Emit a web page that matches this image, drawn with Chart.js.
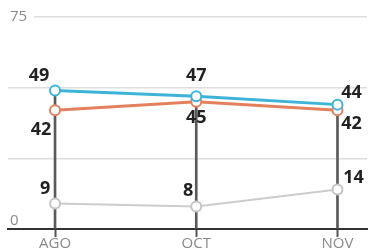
<!DOCTYPE html>
<html><head><meta charset="utf-8">
<script src="https://cdn.jsdelivr.net/npm/chart.js@4/dist/chart.umd.min.js"></script>
<style>html,body{margin:0;padding:0;background:#fff}#w{width:374px;height:252px}</style>
</head><body><div id="w"><canvas id="c"></canvas></div>
<script>
const categories = ['AGO', 'OCT', 'NOV'];
const seriesBlue = [49, 47, 44];
const seriesOrange = [42, 45, 42];
const seriesGray = [9, 8, 14];
const yTickLabels = [0, 75];

const toPts = arr => arr.map((v, i) => ({x: i, y: v}));
const tops = categories.map((_, i) => ({x: i, y: Math.max(seriesBlue[i], seriesOrange[i], seriesGray[i])}));

const labelOffsets = [
  [[-16,-15],[0,-20],[14,-12]],
  [[-14,20],[0,16],[14,14]],
  [[-10,-15],[-8,-16],[16,-12]]
];

const valueLabels = {
  id: 'valueLabels',
  afterDatasetsDraw(chart) {
    const ctx = chart.ctx;
    ctx.save();
    ctx.font = 'bold 18px "Open Sans", sans-serif';
    ctx.fillStyle = '#222';
    ctx.textAlign = 'center';
    ctx.textBaseline = 'middle';
    [0,1,2].forEach(di => {
      const meta = chart.getDatasetMeta(di);
      const ds = chart.data.datasets[di];
      meta.data.forEach((pt, i) => {
        const o = labelOffsets[di][i];
        ctx.fillText(String(ds.data[i].y), pt.x + o[0], pt.y + o[1]);
      });
    });
    ctx.restore();
  }
};

const yLabels = {
  id: 'yLabels',
  afterDraw(chart) {
    const ctx = chart.ctx;
    const ys = chart.scales.y;
    ctx.save();
    ctx.font = '15px "Open Sans", sans-serif';
    ctx.fillStyle = '#8a8a8a';
    ctx.textAlign = 'left';
    ys.ticks.forEach(t => {
      if (!yTickLabels.includes(t.value)) return;
      const y = ys.getPixelForValue(t.value);
      const txt = String(t.value);
      if (t.value === ys.max) {
        const w = ctx.measureText(txt).width;
        ctx.fillStyle = '#fff';
        ctx.fillRect(8, y - 8, w + 9, 16);
        ctx.fillStyle = '#8a8a8a';
        ctx.textBaseline = 'middle';
        ctx.fillText(txt, 10, y);
      } else {
        ctx.textBaseline = 'bottom';
        ctx.fillText(txt, 10, y - 1);
      }
    });
    ctx.restore();
  }
};

new Chart(document.getElementById('c'), {
  type: 'line',
  data: {
    datasets: [
      {data: toPts(seriesBlue), borderColor: '#3db3d8', borderWidth: 3, pointRadius: 5, pointBorderWidth: 2, pointBackgroundColor: '#fff', pointBorderColor: '#3db3d8', order: 1},
      {data: toPts(seriesOrange), borderColor: '#e3805e', borderWidth: 3, pointRadius: 5, pointBorderWidth: 2, pointBackgroundColor: '#fff', pointBorderColor: '#e3805e', order: 2},
      {data: toPts(seriesGray), borderColor: '#cccccc', borderWidth: 2, pointRadius: 5, pointBorderWidth: 2, pointBackgroundColor: '#fff', pointBorderColor: '#c4c4c4', order: 3},
      {type: 'bar', data: tops, backgroundColor: '#5a5a5a', barThickness: 2, order: 4}
    ]
  },
  options: {
    responsive: true, maintainAspectRatio: false, animation: false,
    layout: {padding: {left: 8, right: 0, top: 17, bottom: 1}},
    plugins: {legend: {display: false}, tooltip: {enabled: false}},
    scales: {
      x: {
        type: 'linear', min: -0.333, max: 2.209, offset: false,
        ticks: {stepSize: 1, includeBounds: false, callback: v => categories[v], color: '#8a8a8a', font: {size: 15, family: '"Open Sans", sans-serif'}, padding: -2, maxRotation: 0, autoSkip: false},
        grid: {offset: false, drawOnChartArea: false, drawTicks: true, tickLength: 8, tickWidth: 2, tickColor: '#555'},
        border: {display: true, color: '#333', width: 2}
      },
      y: {
        min: 0, max: 75,
        ticks: {display: false, stepSize: 25},
        grid: {color: '#dddddd', lineWidth: 1.5, drawTicks: false},
        border: {display: false}
      }
    }
  },
  plugins: [valueLabels, yLabels]
});
</script>
</body></html>
